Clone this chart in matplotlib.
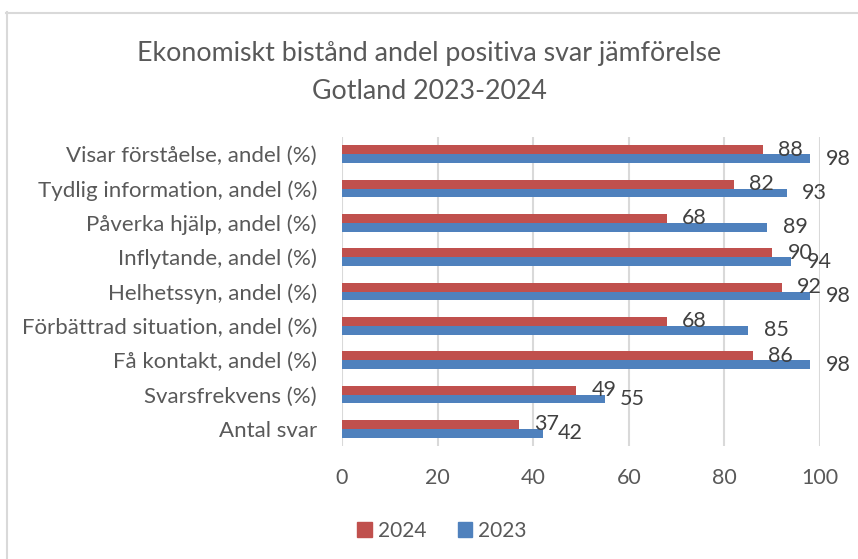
import numpy as np
import matplotlib.pyplot as plt
from matplotlib.lines import Line2D
from matplotlib.patches import Patch

categories = [
    "Visar förståelse, andel (%)",
    "Tydlig information, andel (%)",
    "Påverka hjälp, andel (%)",
    "Inflytande, andel (%)",
    "Helhetssyn, andel (%)",
    "Förbättrad situation, andel (%)",
    "Få kontakt, andel (%)",
    "Svarsfrekvens (%)",
    "Antal svar",
]
values_2024 = [88, 82, 68, 90, 92, 68, 86, 49, 37]
values_2023 = [98, 93, 89, 94, 98, 85, 98, 55, 42]

RED = "#C0504D"
BLUE = "#4F81BD"
TEXT = "#595959"
GRID = "#D9D9D9"

plt.rcParams["font.family"] = ["Lato", "DejaVu Sans"]

fig = plt.figure(figsize=(8.58, 5.59), dpi=100)
W, H = 858, 559

# chart frame (top and left edges visible)
fig.add_artist(Line2D([6 / W, 1], [1 - 12.5 / H] * 2, color=GRID, lw=1.5,
                      transform=fig.transFigure))
fig.add_artist(Line2D([6.5 / W] * 2, [0, 1 - 12 / H], color=GRID, lw=1.5,
                      transform=fig.transFigure))

ax = fig.add_axes([342 / W, 1 - 446 / H, 478 / W, 309 / H])

n = len(categories)
y = np.arange(n)[::-1]
h = 0.26

ax.barh(y + h / 2, values_2024, height=h, color=RED, label="2024", zorder=3)
ax.barh(y - h / 2, values_2023, height=h, color=BLUE, label="2023", zorder=3)

for yi, v in zip(y, values_2024):
    ax.annotate(str(v), (v, yi + h / 2), xytext=(11, 0), textcoords="offset points",
                ha="left", va="center", fontsize=15.5, color="#404040")
for yi, v in zip(y, values_2023):
    ax.annotate(str(v), (v, yi - h / 2), xytext=(11, 0), textcoords="offset points",
                ha="left", va="center", fontsize=15.5, color="#404040")

ax.set_xlim(0, 100)
ax.set_ylim(-0.5, n - 0.5)
ax.set_xticks(range(0, 101, 20))
ax.set_yticks(y)
ax.set_yticklabels(categories)
ax.tick_params(axis="both", length=0, labelsize=16, colors=TEXT)
ax.tick_params(axis="x", labelsize=15.5, pad=16)
ax.tick_params(axis="y", pad=18)
ax.xaxis.grid(True, color=GRID, lw=1.5, zorder=0)
for s in ax.spines.values():
    s.set_visible(False)

fig.text(0.5, 1 - 53 / H, "Ekonomiskt bistånd andel positiva svar jämförelse",
         ha="center", va="center", fontsize=19.3, color=TEXT)
fig.text(0.5, 1 - 91 / H, "Gotland 2023-2024",
         ha="center", va="center", fontsize=19.3, color=TEXT)

handles = [Patch(color=RED), Patch(color=BLUE)]
fig.legend(handles, ["2024", "2023"], loc="center", bbox_to_anchor=(442 / W, 1 - 531 / H),
           ncol=2, frameon=False, fontsize=15, labelcolor=TEXT,
           handlelength=0.7, handleheight=0.7, handletextpad=0.3, columnspacing=1.5)

fig.savefig("out.png", dpi=100, facecolor="white")
